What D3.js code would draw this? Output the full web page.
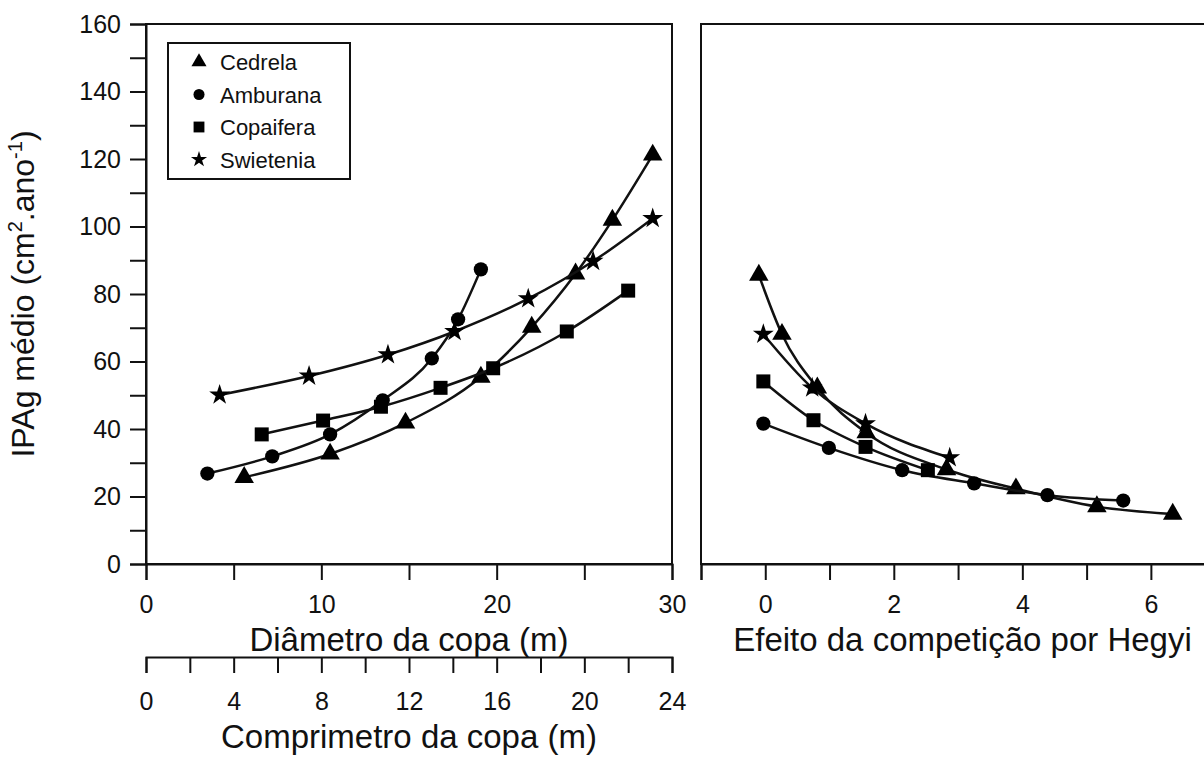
<!DOCTYPE html>
<html>
<head>
<meta charset="utf-8">
<script src="https://cdn.jsdelivr.net/npm/d3@7"></script>
<style>
  html, body { margin: 0; padding: 0; background: #fff; }
  svg { display: block; }
  text { font-family: "Liberation Sans", Arial, sans-serif; fill: #111; }
</style>
</head>
<body>
<svg id="chart" width="1204" height="778"></svg>
<script>
// Species and their marker shapes
const species = ["Cedrela", "Amburana", "Copaifera", "Swietenia"];

// Left panel: crown diameter (m) vs mean basal area increment
const diamCedrela   = [[5.6, 25.7], [10.5, 32.6], [14.8, 41.8], [19.1, 55.4], [22.0, 70.2], [24.5, 86.0], [26.6, 101.9], [28.9, 121.2]];
const diamAmburana  = [[3.5, 26.8], [7.2, 31.9], [10.5, 38.4], [13.5, 48.5], [16.3, 60.9], [17.8, 72.5], [19.1, 87.3]];
const diamCopaifera = [[6.6, 38.4], [10.1, 42.5], [13.4, 46.6], [16.8, 52.2], [19.8, 58.0], [24.0, 68.9], [27.5, 81.0]];
const diamSwietenia = [[4.2, 50.1], [9.3, 55.7], [13.8, 62.0], [17.6, 68.9], [21.8, 78.6], [25.5, 89.7], [28.9, 102.4]];

// Right panel: Hegyi competition index vs mean basal area increment
const hegyiCedrela   = [[-0.10, 85.6], [0.26, 68.1], [0.81, 52.2], [1.57, 38.9], [2.82, 28.0], [3.90, 22.3], [5.16, 17.0], [6.34, 14.8]];
const hegyiAmburana  = [[-0.03, 41.6], [0.99, 34.4], [2.13, 27.8], [3.25, 23.9], [4.39, 20.4], [5.57, 18.8]];
const hegyiCopaifera = [[-0.03, 54.1], [0.75, 42.6], [1.56, 34.7], [2.53, 27.8]];
const hegyiSwietenia = [[-0.03, 68.1], [0.73, 52.2], [1.56, 41.6], [2.87, 31.5]];

// Axis ticks and labels
const yTicks = d3.range(0, 161, 10);
const yLabels = d3.range(0, 161, 20);
const diamTicks = d3.range(0, 31, 5);
const diamLabels = [0, 10, 20, 30];
const compTicks = d3.range(0, 25, 2);
const compLabels = [0, 4, 8, 12, 16, 20, 24];
const hegyiTicks = d3.range(-1, 8, 1);
const hegyiLabels = [0, 2, 4, 6];

const yTitle = "IPAg médio";
const diamTitle = "Diâmetro da copa (m)";
const compTitle = "Comprimetro da copa (m)";
const hegyiTitle = "Efeito da competição por Hegyi";

// ---- layout ----
const svg = d3.select("#chart");
const plotTop = 24, plotBottom = 564;
const leftX0 = 146, leftX1 = 672;
const rightX0 = 701, rightX1 = 1228;
const tickLen = 16;
const ink = "#111";

const y = d3.scaleLinear().domain([0, 160]).range([plotBottom, plotTop]);
const xDiam = d3.scaleLinear().domain([0, 30]).range([leftX0, leftX1]);
const xComp = d3.scaleLinear().domain([0, 24]).range([leftX0, leftX1]);
const xHegyi = d3.scaleLinear().domain([-1, 7.2]).range([rightX0, rightX1]);

const symbolTypes = {
  Cedrela: d3.symbolTriangle,
  Amburana: d3.symbolCircle,
  Copaifera: d3.symbolSquare,
  Swietenia: d3.symbolStar
};
const symbolSizes = { Cedrela: 165, Amburana: 160, Copaifera: 196, Swietenia: 135 };
const symbolFor = (name, k = 1) => d3.symbol().type(symbolTypes[name]).size(symbolSizes[name] * k)();

// ---- frames ----
function frame(x0, x1) {
  svg.append("rect")
    .attr("x", x0).attr("y", plotTop)
    .attr("width", x1 - x0).attr("height", plotBottom - plotTop)
    .attr("fill", "none").attr("stroke", ink).attr("stroke-width", 2);
}
frame(leftX0, leftX1);
frame(rightX0, rightX1);

function styleAxis(g) {
  g.select(".domain").attr("stroke", ink).attr("stroke-width", 2);
  g.selectAll(".tick line").attr("stroke", ink).attr("stroke-width", 2);
  g.selectAll(".tick text")
    .attr("font-family", '"Liberation Sans", Arial, sans-serif')
    .attr("font-size", 25).attr("fill", ink);
}

// ---- y axis (left panel only) ----
const yAxis = d3.axisLeft(y).tickValues(yTicks).tickSize(tickLen).tickPadding(9)
  .tickFormat(d => yLabels.includes(d) ? d : "");
const gy = svg.append("g").attr("transform", `translate(${leftX0},0)`).call(yAxis);
styleAxis(gy);

// ---- bottom axes ----
function bottomAxis(scale, ticks, labels, yPos, pad) {
  const ax = d3.axisBottom(scale).tickValues(ticks).tickSize(tickLen).tickPadding(pad)
    .tickFormat(d => labels.includes(d) ? d : "");
  const g = svg.append("g").attr("transform", `translate(0,${yPos})`).call(ax);
  styleAxis(g);
  return g;
}
bottomAxis(xDiam, diamTicks, diamLabels, plotBottom, 15);
bottomAxis(xComp, compTicks, compLabels, 657, 19);
bottomAxis(xHegyi, hegyiTicks, hegyiLabels, plotBottom, 15);

// ---- titles ----
function title(txt, x, yPos) {
  svg.append("text").attr("x", x).attr("y", yPos)
    .attr("text-anchor", "middle").attr("font-size", 33).text(txt);
}
title(diamTitle, (leftX0 + leftX1) / 2, 651);
title(compTitle, (leftX0 + leftX1) / 2, 748);
title(hegyiTitle, (rightX0 + rightX1) / 2 - 2, 651);

// y title with superscripts
const yt = svg.append("text")
  .attr("transform", `translate(34,${(plotTop + plotBottom) / 2}) rotate(-90)`)
  .attr("text-anchor", "middle").attr("font-size", 32);
yt.append("tspan").text(yTitle + " (cm");
yt.append("tspan").attr("font-size", 20).attr("dy", -12).text("2");
yt.append("tspan").attr("dy", 12).text(".ano");
yt.append("tspan").attr("font-size", 20).attr("dy", -12).text("-1");
yt.append("tspan").attr("dy", 12).text(")");

// ---- series ----
const lineFor = xs => d3.line().x(d => xs(d[0])).y(d => y(d[1])).curve(d3.curveMonotoneX);

function drawSeries(xs, name, data) {
  svg.append("path").datum(data)
    .attr("d", lineFor(xs))
    .attr("fill", "none").attr("stroke", ink).attr("stroke-width", 2.5);
  svg.append("g").selectAll("path").data(data).join("path")
    .attr("transform", d => `translate(${xs(d[0])},${y(d[1])})`)
    .attr("d", symbolFor(name))
    .attr("fill", "#000");
}
const leftSets = [diamCedrela, diamAmburana, diamCopaifera, diamSwietenia];
const rightSets = [hegyiCedrela, hegyiAmburana, hegyiCopaifera, hegyiSwietenia];
species.forEach((s, i) => drawSeries(xDiam, s, leftSets[i]));
species.forEach((s, i) => drawSeries(xHegyi, s, rightSets[i]));

// ---- legend ----
const lg = svg.append("g").attr("transform", "translate(168,43)");
lg.append("rect").attr("width", 182).attr("height", 136)
  .attr("fill", "#fff").attr("stroke", ink).attr("stroke-width", 2);
species.forEach((s, i) => {
  const ry = 19 + i * 32.5;
  lg.append("path").attr("transform", `translate(31,${ry})`)
    .attr("d", symbolFor(s, 0.6))
    .attr("fill", "#000");
  lg.append("text").attr("x", 52).attr("y", ry + 8).attr("font-size", 22).text(s);
});
</script>
</body>
</html>
